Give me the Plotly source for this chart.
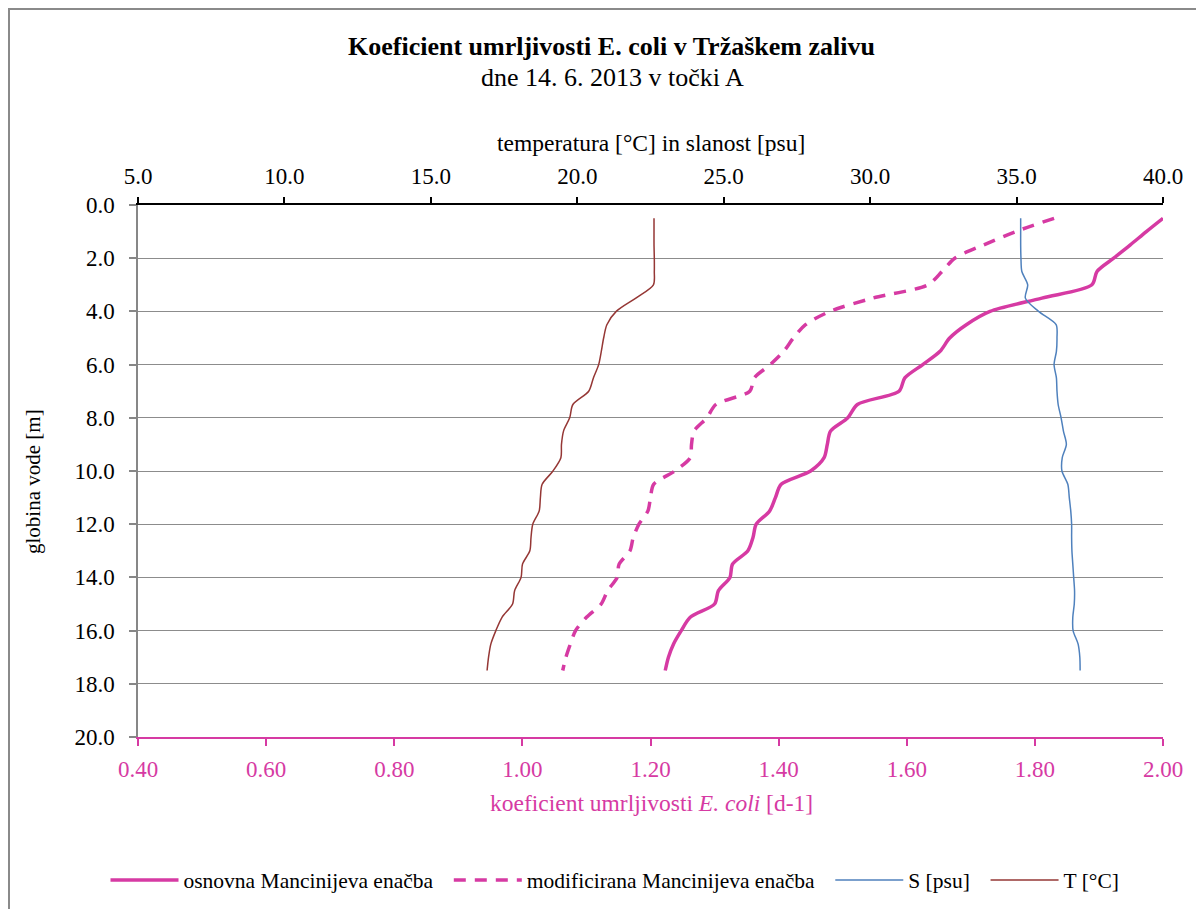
import plotly.graph_objects as go

depth = [0.5, 1.0, 1.5, 2.0, 2.5, 3.0, 3.5, 4.0, 4.5, 5.0, 5.5, 6.0, 6.5, 7.0, 7.5, 8.0, 8.5, 9.0,
         9.5, 10.0, 10.5, 11.0, 11.5, 12.0, 12.5, 13.0, 13.5, 14.0, 14.5, 15.0, 15.5, 16.0, 16.5, 17.0, 17.5]

k_osnovna = [2.000, 1.974, 1.949, 1.923, 1.897, 1.889, 1.811, 1.730, 1.693, 1.667, 1.652, 1.625,
             1.597, 1.588, 1.523, 1.508, 1.481, 1.476, 1.471, 1.450, 1.404, 1.395, 1.386, 1.365,
             1.360, 1.352, 1.328, 1.324, 1.306, 1.300, 1.262, 1.248, 1.236, 1.228, 1.223]

k_modificirana = [1.830, 1.770, 1.720, 1.675, 1.655, 1.633, 1.547, 1.480, 1.442, 1.423, 1.408, 1.387,
                  1.362, 1.355, 1.302, 1.288, 1.268, 1.264, 1.262, 1.238, 1.205, 1.200, 1.196, 1.182,
                  1.173, 1.168, 1.151, 1.148, 1.133, 1.123, 1.100, 1.083, 1.075, 1.068, 1.063]

S_psu = [35.14, 35.14, 35.14, 35.15, 35.18, 35.38, 35.30, 35.75, 36.35, 36.38, 36.36, 36.28,
         36.36, 36.38, 36.42, 36.52, 36.60, 36.70, 36.56, 36.55, 36.75, 36.80, 36.85, 36.88,
         36.88, 36.89, 36.92, 36.95, 36.98, 36.97, 36.92, 36.93, 37.10, 37.16, 37.17]

T_C = [22.62, 22.62, 22.62, 22.63, 22.63, 22.60, 22.00, 21.33, 21.01, 20.90, 20.82, 20.73,
       20.55, 20.39, 19.85, 19.74, 19.53, 19.46, 19.44, 19.17, 18.80, 18.74, 18.70, 18.48,
       18.42, 18.38, 18.13, 18.08, 17.86, 17.79, 17.43, 17.22, 17.05, 16.97, 16.92]

bottom_ticks = [0.40, 0.60, 0.80, 1.00, 1.20, 1.40, 1.60, 1.80, 2.00]
top_ticks = [5.0, 10.0, 15.0, 20.0, 25.0, 30.0, 35.0, 40.0]
depth_ticks = [0.0, 2.0, 4.0, 6.0, 8.0, 10.0, 12.0, 14.0, 16.0, 18.0, 20.0]

names = ["osnovna Mancinijeva enačba", "modificirana Mancinijeva enačba", "S [psu]", "T [°C]"]

MAG = "#D63AA3"
BLUE = "#4F81BD"
BROWN = "#953735"
FONT = "Liberation Serif"

# page has an 8px body margin; plot area target: x 138..1163, y 205..737 on screen
OFF = 8
W, H = 1204 - OFF, 909 - OFF
L, T = 138 - OFF, 205 - OFF
R, B = 41, 172
PW, PH = 1163 - 138, 737 - 205


def px(xs):
    return (xs - 138) / PW


def py(ys):
    return (737 - ys) / PH


GAP = "\u00a0" * 2  # extra spacing between legend entries

fig = go.Figure()
fig.add_trace(go.Scatter(x=k_osnovna, y=depth, mode="lines", name=names[0] + GAP,
                         line=dict(color=MAG, width=3.5, shape="spline", smoothing=0.8),
                         xaxis="x", yaxis="y"))
fig.add_trace(go.Scatter(x=k_modificirana, y=depth, mode="lines", name=names[1] + GAP,
                         line=dict(color=MAG, width=3.5, dash="12px,9px", shape="spline", smoothing=0.8),
                         xaxis="x", yaxis="y"))
fig.add_trace(go.Scatter(x=S_psu, y=depth, mode="lines", name=names[2] + GAP,
                         line=dict(color=BLUE, width=1.5, shape="spline", smoothing=0.8),
                         xaxis="x2", yaxis="y"))
fig.add_trace(go.Scatter(x=T_C, y=depth, mode="lines", name=names[3],
                         line=dict(color=BROWN, width=1.5, shape="spline", smoothing=0.8),
                         xaxis="x2", yaxis="y"))

fig.update_layout(
    width=W, height=H,
    margin=dict(l=L, r=R, t=T, b=B, pad=0, autoexpand=False),
    paper_bgcolor="white", plot_bgcolor="white",
    font=dict(family=FONT, size=23, color="black"),
    showlegend=True,
    legend=dict(orientation="h", x=px(615), xanchor="center", y=py(880), yanchor="middle",
                font=dict(family=FONT, size=21.5, color="black"), itemwidth=68,
                traceorder="normal", bgcolor="rgba(0,0,0,0)"),
    xaxis=dict(range=[0.4, 2.0], tickvals=bottom_ticks, tickformat=".2f",
               tickfont=dict(color=MAG, size=23, family=FONT),
               showline=True, linecolor=MAG, linewidth=2, ticks="outside", tickcolor=MAG,
               ticklen=7, tickwidth=1.5, showgrid=False, zeroline=False, side="bottom",
               anchor="y", ticklabelstandoff=3),
    xaxis2=dict(range=[5, 40], tickvals=top_ticks, tickformat=".1f", overlaying="x", side="top",
                tickfont=dict(color="black", size=23, family=FONT),
                showline=True, linecolor="black", linewidth=2, ticks="outside", tickcolor="black",
                ticklen=6, tickwidth=1.5, showgrid=False, zeroline=False, anchor="y",
                ticklabelstandoff=4),
    yaxis=dict(range=[20, 0], tickvals=depth_ticks, tickformat=".1f",
               tickfont=dict(color="black", size=23, family=FONT),
               showline=True, linecolor="#878787", linewidth=1.5, ticks="outside",
               tickcolor="#878787", ticklen=7, tickwidth=1.5, ticklabelstandoff=10,
               showgrid=True, gridcolor="#8C8C8C", gridwidth=1, zeroline=False),
    shapes=[dict(type="rect", xref="paper", yref="paper",
                 x0=px(9), x1=px(1203), y0=py(930), y1=py(9),
                 line=dict(color="#8A8A8A", width=2), fillcolor="rgba(0,0,0,0)", layer="below")],
    annotations=[
        dict(text="<b>Koeficient umrljivosti E. coli v Tržaškem zalivu</b>", xref="paper", yref="paper",
             x=px(611), y=py(46), xanchor="center", yanchor="middle",
             showarrow=False, font=dict(family=FONT, size=26, color="black")),
        dict(text="dne 14. 6. 2013 v točki A", xref="paper", yref="paper",
             x=px(612), y=py(77), xanchor="center", yanchor="middle",
             showarrow=False, font=dict(family=FONT, size=26, color="black")),
        dict(text="temperatura [°C] in slanost [psu]", xref="paper", yref="paper",
             x=px(651), y=py(143), xanchor="center", yanchor="middle",
             showarrow=False, font=dict(family=FONT, size=23.5, color="black")),
        dict(text="koeficient umrljivosti <i>E. coli</i> [d-1]", xref="paper", yref="paper",
             x=px(651), y=py(803), xanchor="center", yanchor="middle",
             showarrow=False, font=dict(family=FONT, size=23.5, color=MAG)),
        dict(text="globina vode [m]", xref="paper", yref="paper", textangle=-90,
             x=px(33), y=py(482), xanchor="center", yanchor="middle",
             showarrow=False, font=dict(family=FONT, size=21, color="black")),
    ],
)

fig.write_html("out.html")
